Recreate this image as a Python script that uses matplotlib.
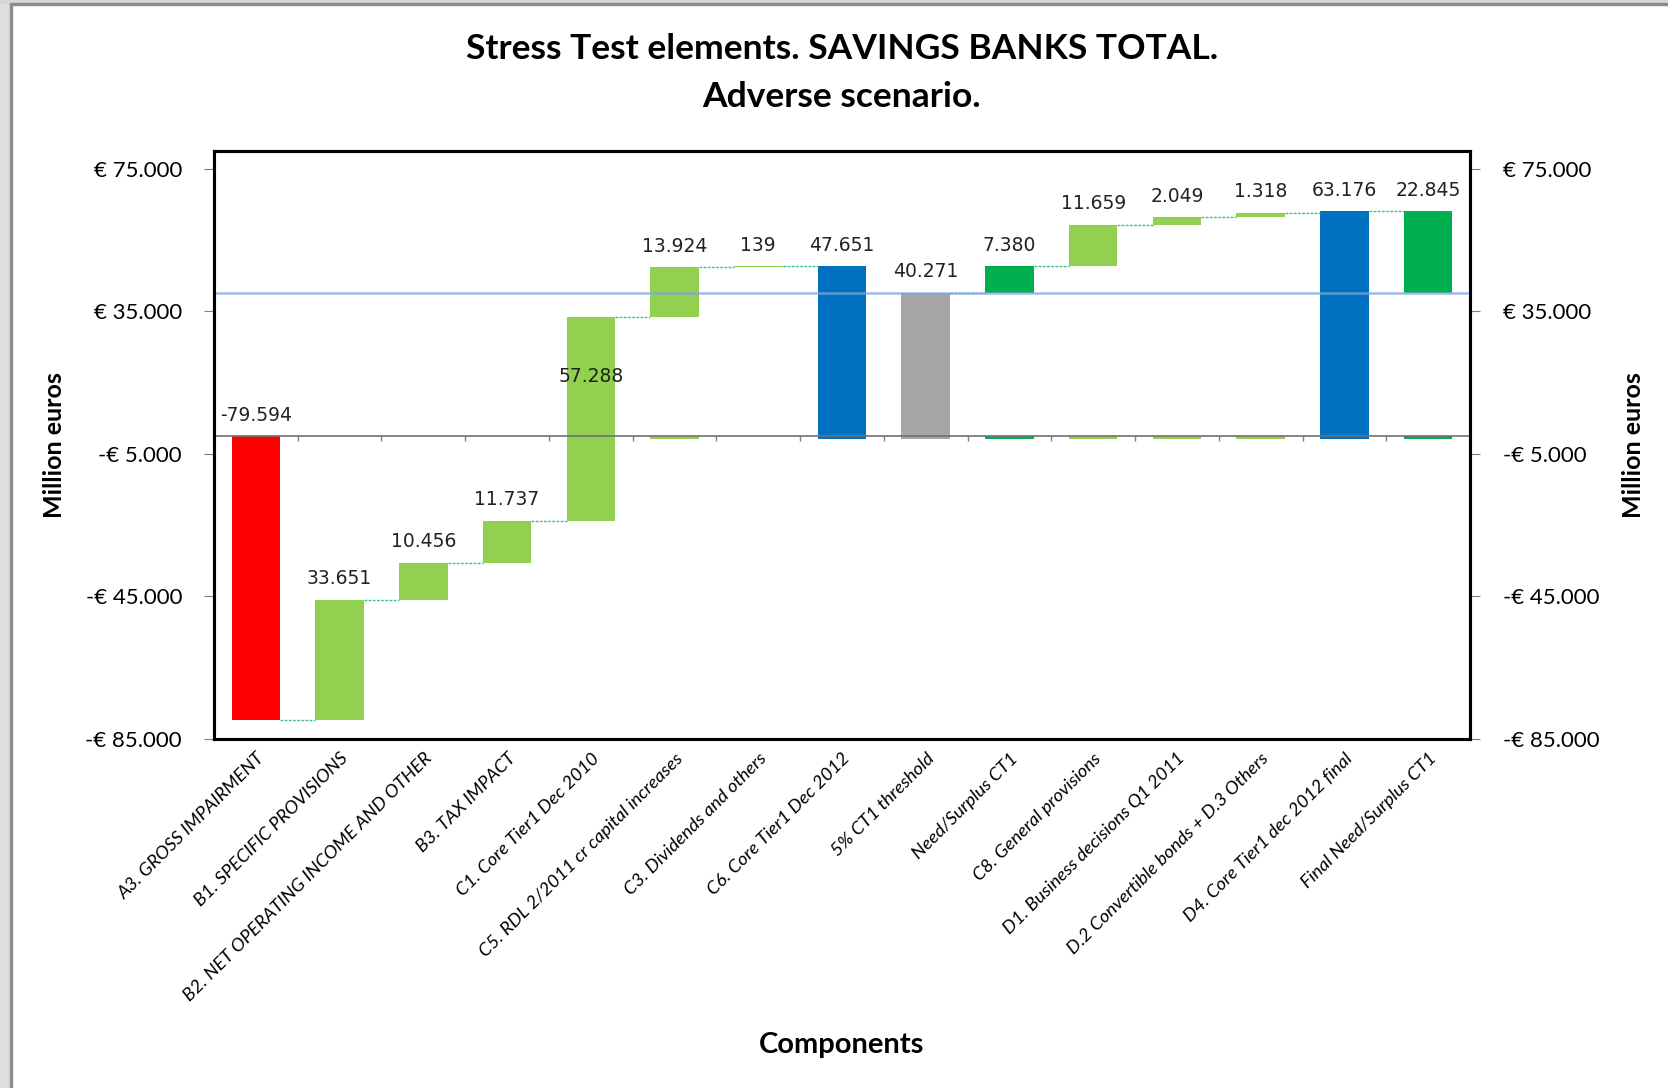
import numpy as np
import matplotlib.pyplot as plt
from matplotlib.patches import Rectangle

categories = [
    'A3. GROSS IMPAIRMENT',
    'B1. SPECIFIC PROVISIONS',
    'B2. NET OPERATING INCOME AND OTHER',
    'B3. TAX IMPACT',
    'C1. Core Tier1 Dec 2010',
    'C5. RDL 2/2011 cr capital increases',
    'C3. Dividends and others',
    'C6. Core Tier1 Dec 2012',
    '5% CT1 threshold',
    'Need/Surplus CT1',
    'C8. General provisions',
    'D1. Business decisions Q1 2011',
    'D.2 Convertible bonds + D.3 Others',
    'D4. Core Tier1 dec 2012 final',
    'Final Need/Surplus CT1',
]
values = [-79594, 33651, 10456, 11737, 57288, 13924, 139,
          47651, 40271, 7380, 11659, 2049, 1318, 63176, 22845]
# step = adds to running level, total = drawn from zero, gap = drawn from the threshold
kinds = ['step'] * 7 + ['total', 'total', 'step', 'step', 'step', 'step', 'total', 'gap']
colors = ['#FF0000', '#92D050', '#92D050', '#92D050', '#92D050', '#92D050', '#92D050',
          '#0070C0', '#A6A6A6', '#00B050', '#92D050', '#92D050', '#92D050', '#0070C0', '#00B050']
# little Excel stubs below the zero line
stub = [False, False, False, False, False, True, False,
        True, True, True, True, True, True, True, True]
yticks = [75000, 35000, -5000, -45000, -85000]

threshold = values[categories.index('5% CT1 threshold')]

bottoms, tops = [], []
level = 0
for v, k in zip(values, kinds):
    if k == 'total':
        b = 0
        level = v
    elif k == 'gap':
        b = threshold
    else:
        b = level
        level += v
    bottoms.append(b)
    tops.append(b + v)


def euro(v):
    s = f"{abs(v):,}".replace(',', '.')
    return f"€ {s}" if v >= 0 else f"-€ {s}"


fig = plt.figure(figsize=(16.68, 10.88), dpi=100)
ax = fig.add_axes([214 / 1668, 1 - 739 / 1088, 1256 / 1668, 588 / 1088])

n = len(categories)
x = np.arange(n)
w = 0.58

ax.bar(x, values, bottom=bottoms, width=w, color=colors, zorder=2)
sx = x[np.array(stub)]
ax.bar(sx, -800, bottom=0, width=w, color=[c for c, s in zip(colors, stub) if s], zorder=2)

# connectors
for i in range(n - 1):
    if categories[i + 1] == '5% CT1 threshold':
        continue
    lv = tops[i]
    ax.plot([x[i] + w / 2, x[i + 1] - w / 2], [lv, lv], color='#3CC47C',
            ls=(0, (2, 1)), lw=1, zorder=2)

ax.axhline(0, color='#707070', lw=1.2, zorder=3)
ax.vlines(np.arange(n + 1) - 0.5, -1500, 0, color='#808080', lw=1, zorder=3)
ax.axhline(threshold, color='#7FA6DA', lw=1.8, alpha=0.75, zorder=4)

for i, (b, t, v) in enumerate(zip(bottoms, tops, values)):
    lab = f"{v:,}".replace(',', '.')
    if b < 0 < t:
        ax.text(x[i], t / 2, lab, ha='center', va='center', fontsize=13.5,
                family='DejaVu Sans', color='#222222', zorder=5)
    else:
        ax.annotate(lab, (x[i], max(b, t)), xytext=(0, 15), textcoords='offset points',
                    ha='center', va='center', fontsize=13.5, family='DejaVu Sans',
                    color='#222222', zorder=5)

ax.set_xlim(-0.5, n - 0.5)
ax.set_ylim(-85000, 80000)
ax.set_yticks(yticks)
ax.set_yticklabels([euro(v) for v in yticks], family='Lato', fontsize=16)
ax.tick_params(axis='y', length=7, color='#808080', pad=16)
ax.set_xticks(x)
ax.set_xticklabels(categories, rotation=45, ha='right', va='top', rotation_mode='anchor',
                   family='Lato', style='italic', fontsize=13.3)
ax.tick_params(axis='x', length=0, pad=8)
for sp in ax.spines.values():
    sp.set_linewidth(2.2)
    sp.set_color('black')
ax.set_ylabel('Million euros', family='Lato', fontweight='bold', fontsize=18,
              va='center')
ax.yaxis.set_label_coords(-0.1266, 0.5)
ax.set_xlabel('Components', family='Lato', fontweight='bold', fontsize=21, va='center')
ax.xaxis.set_label_coords(0.5, -0.52)

ax2 = ax.twinx()
ax2.set_ylim(ax.get_ylim())
ax2.set_yticks(yticks)
ax2.set_yticklabels([euro(v) for v in yticks], family='Lato', fontsize=16)
ax2.tick_params(axis='y', length=7, color='#808080', pad=17)
ax2.set_ylabel('Million euros', family='Lato', fontweight='bold', fontsize=18, va='center')
ax2.yaxis.set_label_coords(1.1298, 0.5)
for sp in ax2.spines.values():
    sp.set_linewidth(2.2)

fig.text(842 / 1668, 1 - 73 / 1088,
         'Stress Test elements. SAVINGS BANKS TOTAL.\nAdverse scenario.',
         ha='center', va='center', family='Lato', fontweight='bold', fontsize=25.5,
         linespacing=1.6)

# window frame of the screenshot
fig.patches.append(Rectangle((0, 0), 10 / 1668, 1, transform=fig.transFigure,
                             color='#DEDEDE', zorder=0))
fig.patches.append(Rectangle((10 / 1668, 0), 2 / 1668, 1 - 3 / 1088, transform=fig.transFigure,
                             color='#8C8C8C', zorder=0))
fig.patches.append(Rectangle((0, 1 - 3 / 1088), 1, 3 / 1088, transform=fig.transFigure,
                             color='#D6D6D6', zorder=0))
fig.patches.append(Rectangle((10 / 1668, 1 - 5 / 1088), 1, 2 / 1088, transform=fig.transFigure,
                             color='#8C8C8C', zorder=0))

fig.savefig('out.png', dpi=100)
